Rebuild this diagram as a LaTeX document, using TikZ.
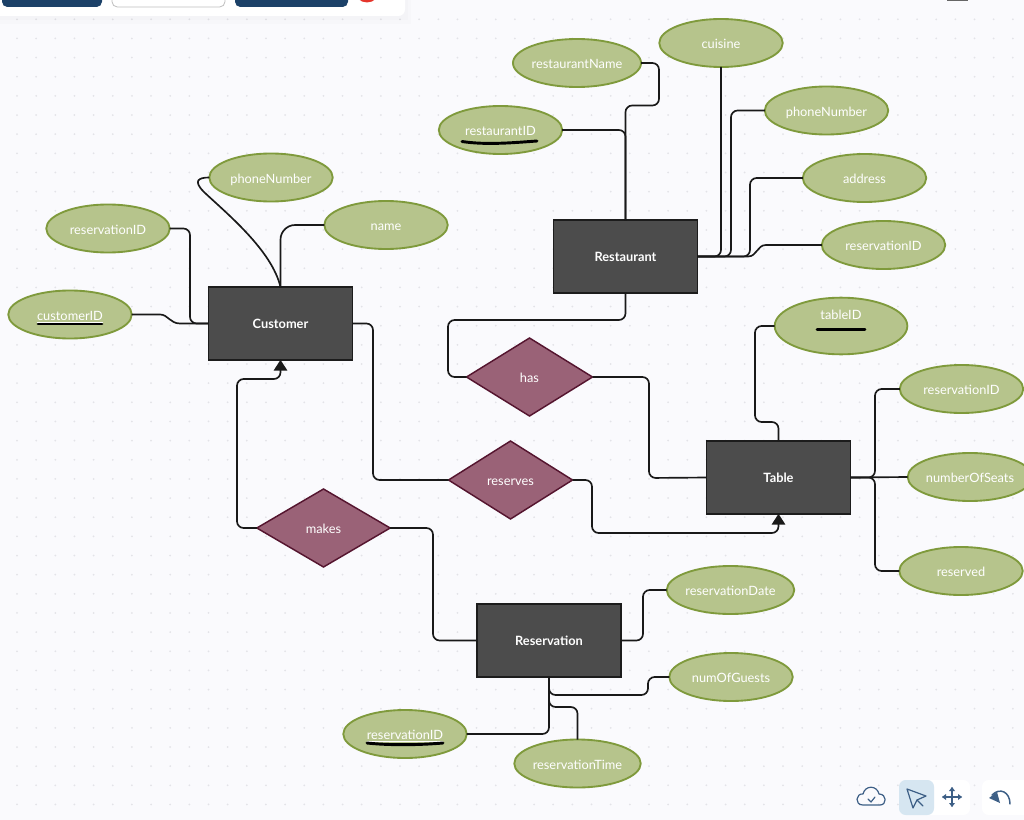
\documentclass[tikz,border=0pt]{standalone}
\usepackage{fontspec}
\setmainfont{Lato}
\usetikzlibrary{shapes.geometric,arrows.meta}
\definecolor{bgc}{HTML}{FAFAFD}
\definecolor{dotc}{HTML}{E3E3E8}
\definecolor{attrf}{HTML}{B6C48C}
\definecolor{attrd}{HTML}{7F9A3C}
\definecolor{relf}{HTML}{9A6277}
\definecolor{reld}{HTML}{55152F}
\definecolor{entf}{HTML}{4C4C4C}
\definecolor{entd}{HTML}{1C1C1C}
\definecolor{navy}{HTML}{1C4168}
\definecolor{iconc}{HTML}{3D5F86}
\definecolor{selc}{HTML}{D6E6F1}
\definecolor{redc}{HTML}{E5352B}
\tikzset{
  attr/.style={ellipse,draw=attrd,fill=attrf,line width=1.4pt,minimum width=92.6pt,minimum height=36pt,inner sep=0pt,outer sep=0pt,text=white,text height=8.4pt,text depth=0pt,font=\fontsize{9.6}{11}\selectfont},
  rel/.style={diamond,draw=reld,fill=relf,line width=1.1pt,aspect=1.6,inner sep=0pt,outer sep=0pt,text=white,text height=8.4pt,text depth=0pt,font=\fontsize{9.6}{11}\selectfont},
  ent/.style={rectangle,draw=entd,fill=entf,line width=1.1pt,minimum width=108pt,minimum height=54.5pt,inner sep=0pt,outer sep=0pt,text=white,text height=7.6pt,text depth=0pt,font=\fontsize{9.6}{11}\selectfont\bfseries},
  conn/.style={draw=black!90,line width=1.25pt,rounded corners=5pt},
  arrowed/.style={-{Triangle[length=8pt,width=10pt]}},
  keymark/.style={line width=2.2pt,line cap=round,black},
  icon/.style={draw=iconc,line width=0.9pt,line cap=round,line join=round}
}
\begin{document}
\begin{tikzpicture}[x=0.75pt,y=-0.75pt]
\useasboundingbox (0,0) rectangle (1024,820);
\clip (0,0) rectangle (1024,820);
\fill[bgc] (0,0) rectangle (1024,820);
\foreach \i in {0,...,53}{\foreach \j in {0,...,42}{
  \fill[dotc] ({17+19.15*\i},{19.3+19.15*\j}) circle (1);
}}
% toolbar
\fill[black,opacity=0.012] (-10,-10) rectangle (411,24);
\fill[black,opacity=0.012] (-10,-10) rectangle (408,20);
\fill[white,rounded corners=5pt] (-10,-10) rectangle (405,16);
\fill[navy,rounded corners=4pt] (2,-10) rectangle (102,7);
\fill[white,draw=black!25,line width=0.6pt,rounded corners=4pt] (112,-10) rectangle (225,7);
\fill[navy,rounded corners=4pt] (235,-10) rectangle (348,7);
\fill[redc] (367,-10) circle (12.5);
\fill[black!60] (947,-5) rectangle (968,1);
% bottom-right controls
\fill[white,rounded corners=5pt] (899,780) rectangle (970,815);
\fill[selc,rounded corners=5pt] (899,780) rectangle (934,815);
\fill[white,rounded corners=5pt] (982,780) rectangle (1034,815);
\draw[icon] (863,805) .. controls (854,805) and (856,793) .. (863,794) .. controls (865,785) and (877,785) .. (879,794) .. controls (887,794) and (887,805) .. (880,805) -- cycle;
\draw[icon] (868,799) -- (871,802) -- (875,797);
\draw[icon] (907,789) -- (926,796) -- (917,800) -- (913,808) -- cycle;
\draw[icon] (917,800) -- (923,806);
\draw[icon] (952,788) -- (952,806) (943,797) -- (961,797);
\fill[iconc] (952,787) -- (949,791) -- (955,791) -- cycle (952,807) -- (949,803) -- (955,803) -- cycle
  (942,797) -- (946,794) -- (946,800) -- cycle (962,797) -- (958,794) -- (958,800) -- cycle;
\draw[icon,line width=1.1pt] (1010,804) .. controls (1010,792) and (1000,787) .. (992,795);
\fill[iconc] (989,798) -- (1000,803) -- (997,792) -- cycle;

\node[ent] (customer) at (280.5,323.5) {Customer};
\node[ent] (restaurant) at (625.5,256.5) {Restaurant};
\node[ent] (tablee) at (778.5,477.5) {Table};
\node[ent] (reservation) at (549,640.5) {Reservation};

\node[attr] (cphone) at (271,177.5) {phoneNumber};
\node[attr] (cname) at (386,225) {name};
\node[attr] (cres) at (108,228.5) {reservationID};
\node[attr] (cid) at (70,314.5) {\underline{customerID}};

\node[attr] (rname) at (577,63) {restaurantName};
\node[attr] (rcuis) at (721,43) {cuisine};
\node[attr] (rid) at (500.5,130) {restaurantID};
\node[attr] (rphone) at (826.5,110.5) {phoneNumber};
\node[attr] (raddr) at (864.5,178) {address};
\node[attr] (rres) at (883.5,245) {reservationID};

\node[attr,minimum width=99.5pt,minimum height=42.5pt] (tid) at (841,326) {\raisebox{9pt}{tableID}};
\node[attr] (tres) at (961.5,389) {reservationID};
\node[attr] (tseats) at (970,477) {numberOfSeats};
\node[attr] (tresd) at (961,571) {reserved};

\node[attr] (vdate) at (730.5,590) {reservationDate};
\node[attr] (vguests) at (731,677) {numOfGuests};
\node[attr] (vid) at (405,734) {\underline{reservationID}};
\node[attr] (vtime) at (577.5,763.5) {reservationTime};

\node[rel,minimum width=94.5pt,minimum height=58.5pt] (has) at (529.5,377) {has};
\node[rel,minimum width=93pt,minimum height=58.5pt] (reserves) at (510.5,480) {reserves};
\node[rel,minimum width=100pt,minimum height=58.5pt] (makes) at (323.5,528) {makes};

\begin{scope}[every path/.append style={conn}]
\path (cres.east) -- (190,228.5) -- (190,323.5) -- (customer.west);
\path[rounded corners=0pt] (cid.east) -- (160,314.5) .. controls (168,314.5) and (170,323.5) .. (180,323.5) -- (customer.west);
\path[rounded corners=0pt] (cphone.west) .. controls (198,177.5) and (193,181) .. (204,192) .. controls (225,212) and (272,250) .. (customer.north);
\path[rounded corners=11pt] (cname.west) -- (280.5,225) -- (customer.north);
\path (customer.east) -- (373,323.5) -- (373,480) -- (reserves.west);
\path[arrowed] (reserves.east) -- (592,480) -- (592,533) -- (778.5,533) -- (tablee.south);
\path[arrowed] (makes.west) -- (237,528) -- (237,379) -- (280.5,379) -- (customer.south);
\path (makes.east) -- (433,528) -- (433,640.5) -- (reservation.west);
\path (restaurant.south) -- (625.5,320) -- (448,320) -- (448,377) -- (has.west);
\path (has.east) -- (649,377) -- (649,478) -- (tablee.west);
\path (tablee.north) -- (778.5,422) -- (755,422) -- (755,326) -- (tid.west);
\path (tablee.east) -- (875,477.5) -- (875,389) -- (tres.west);
\path (tablee.east) -- (tseats.west);
\path (tablee.east) -- (875,477.5) -- (875,571) -- (tresd.west);
\path (rcuis.south) -- (721,256.5) -- (restaurant.east);
\path (rphone.west) -- (731,110.5) -- (731,256.5) -- (restaurant.east);
\path (raddr.west) -- (750,178) -- (750,256.5) -- (restaurant.east);
\path[rounded corners=0pt] (rres.west) -- (766,245) .. controls (757,245) and (757,256.5) .. (748,256.5) -- (restaurant.east);
\path (rid.east) -- (625.5,130) -- (restaurant.north);
\path (rname.east) -- (659,63) -- (659,105.5) -- (625.5,105.5) -- (restaurant.north);
\path (reservation.east) -- (643,640.5) -- (643,590) -- (vdate.west);
\path (reservation.south) -- (549,695) -- (648,695) -- (648,677) -- (vguests.west);
\path (reservation.south) -- (549,707) -- (577.5,707) -- (vtime.north);
\path (reservation.south) -- (549,734) -- (vid.east);
\end{scope}

% hand-drawn key underlines
\draw[keymark] (38,324) -- (102,324);
\draw[keymark] (462,141.5) .. controls (485,145) and (510,143) .. (537,141);
\draw[keymark] (817,329.5) -- (865,329.5);
\draw[keymark] (367,743) .. controls (390,745.5) and (420,745) .. (443,743);
\end{tikzpicture}
\end{document}
